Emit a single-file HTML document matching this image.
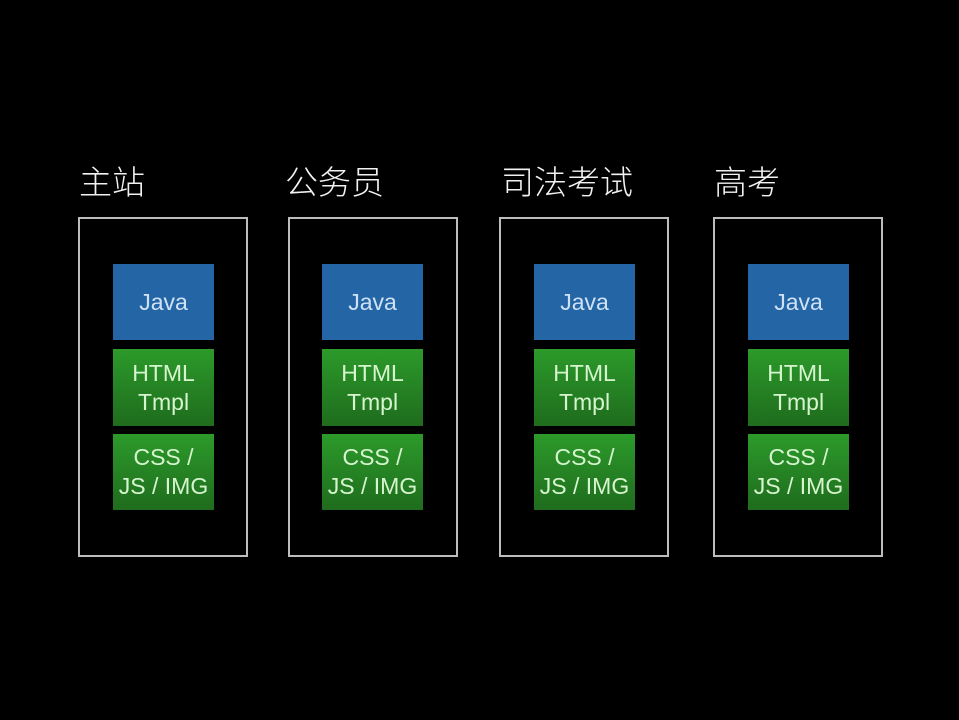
<!DOCTYPE html>
<html><head><meta charset="utf-8"><style>
body{margin:0;width:959px;height:720px;background:#000;position:relative;overflow:hidden;font-family:"Liberation Sans","Noto Sans CJK SC",sans-serif}
.t{position:absolute;top:162px;color:#f2f2f2;font-size:33px;line-height:37px;font-family:"Noto Sans CJK SC",sans-serif;font-weight:300}
.o{position:absolute;top:217px;width:166px;height:336px;border:2px solid #bdbdbd}
.b{position:absolute;width:101px;display:flex;align-items:center;justify-content:center;text-align:center;font-size:23px;line-height:29px;white-space:nowrap}
.j{top:264px;height:76px;background:#2465a6;color:#cfe2f5}
.g{background:linear-gradient(#2c9a2a,#1f6c1d);color:#d6f5cf}
.g1{top:349px;height:77px}
.g2{top:434px;height:76px}
</style></head><body>
<div class="t" style="left:79px">主站</div>
<div class="t" style="left:285px">公务员</div>
<div class="t" style="left:501px">司法考试</div>
<div class="t" style="left:714px">高考</div>

<div class="o" style="left:78px"></div>
<div class="o" style="left:288px"></div>
<div class="o" style="left:499px"></div>
<div class="o" style="left:713px"></div>

<div class="b j" style="left:113px">Java</div>
<div class="b g g1" style="left:113px">HTML<br>Tmpl</div>
<div class="b g g2" style="left:113px">CSS /<br>JS / IMG</div>

<div class="b j" style="left:322px">Java</div>
<div class="b g g1" style="left:322px">HTML<br>Tmpl</div>
<div class="b g g2" style="left:322px">CSS /<br>JS / IMG</div>

<div class="b j" style="left:534px">Java</div>
<div class="b g g1" style="left:534px">HTML<br>Tmpl</div>
<div class="b g g2" style="left:534px">CSS /<br>JS / IMG</div>

<div class="b j" style="left:748px">Java</div>
<div class="b g g1" style="left:748px">HTML<br>Tmpl</div>
<div class="b g g2" style="left:748px">CSS /<br>JS / IMG</div>
</body></html>
